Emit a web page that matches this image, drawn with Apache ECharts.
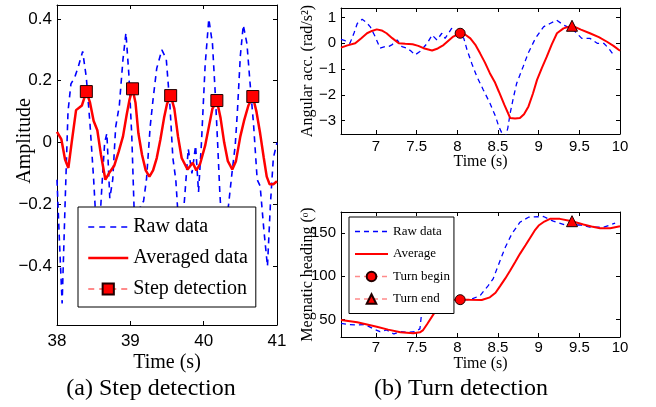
<!DOCTYPE html>
<html>
<head>
<meta charset="utf-8">
<script src="https://cdn.jsdelivr.net/npm/echarts@6/dist/echarts.min.js"></script>
<style>
  html, body { margin: 0; padding: 0; background: #fff; }
  #chart { width: 656px; height: 407px; }
</style>
</head>
<body>
<div id="chart"></div>
<script>
// ---- (a) Step detection: accelerometer amplitude ----
const stepRawT = [38.00, 38.03, 38.07, 38.11, 38.15, 38.19, 38.24, 38.29, 38.35, 38.40, 38.45, 38.50, 38.53, 38.57, 38.61, 38.65, 38.68, 38.72, 38.76, 38.80, 38.85, 38.90, 38.94, 38.98, 39.02, 39.06, 39.10, 39.14, 39.18, 39.22, 39.27, 39.31, 39.36, 39.43, 39.49, 39.54, 39.58, 39.62, 39.66, 39.70, 39.74, 39.79, 39.84, 39.89, 39.93, 39.97, 40.02, 40.07, 40.12, 40.16, 40.19, 40.22, 40.26, 40.30, 40.34, 40.39, 40.43, 40.46, 40.50, 40.54, 40.59, 40.63, 40.68, 40.73, 40.77, 40.82, 40.87, 40.91, 40.95, 40.98, 41.00];
const stepRawV = [-0.12, -0.30, -0.52, -0.20, 0.10, 0.19, 0.21, 0.245, 0.295, 0.21, 0.06, -0.12, -0.25, -0.32, -0.15, 0.0, 0.03, -0.18, -0.12, 0.05, 0.12, 0.27, 0.355, 0.22, 0.02, -0.28, -0.35, -0.20, -0.19, -0.12, 0.05, 0.14, 0.24, 0.30, 0.27, 0.12, -0.05, -0.12, -0.27, -0.30, -0.18, -0.02, -0.10, -0.01, -0.16, 0.0, 0.25, 0.40, 0.32, 0.15, 0.0, -0.16, -0.32, -0.28, -0.20, -0.09, -0.01, 0.10, 0.28, 0.38, 0.32, 0.20, 0.06, -0.12, -0.14, -0.28, -0.40, -0.20, -0.05, -0.02, 0.0];

const stepAvgT = [38.00, 38.06, 38.11, 38.155, 38.20, 38.26, 38.34, 38.40, 38.45, 38.50, 38.55, 38.60, 38.66, 38.72, 38.78, 38.84, 38.90, 38.95, 38.99, 39.03, 39.07, 39.11, 39.16, 39.21, 39.26, 39.31, 39.36, 39.41, 39.46, 39.50, 39.55, 39.60, 39.65, 39.70, 39.78, 39.85, 39.90, 39.95, 40.02, 40.07, 40.12, 40.18, 40.23, 40.28, 40.33, 40.39, 40.44, 40.50, 40.55, 40.61, 40.67, 40.72, 40.77, 40.82, 40.86, 40.90, 40.95, 41.00];
const stepAvgV = [0.035, 0.01, -0.055, -0.082, 0.0, 0.105, 0.12, 0.165, 0.13, 0.07, 0.04, -0.04, -0.12, -0.095, -0.075, -0.03, 0.02, 0.09, 0.14, 0.174, 0.13, 0.03, -0.04, -0.09, -0.11, -0.09, -0.05, 0.01, 0.08, 0.125, 0.152, 0.11, 0.02, -0.05, -0.087, -0.065, -0.09, -0.07, -0.01, 0.05, 0.11, 0.136, 0.08, 0.0, -0.06, -0.087, -0.06, 0.02, 0.07, 0.12, 0.149, 0.10, 0.03, -0.05, -0.11, -0.135, -0.135, -0.125];

const stepPeakT = [38.40, 39.03, 39.55, 40.18, 40.67];
const stepPeakV = [0.165, 0.174, 0.152, 0.136, 0.149];

const stepYTicks = [-0.4, -0.2, 0, 0.2, 0.4];

// ---- (b) Turn detection: angular acceleration ----
const accRawT = [6.57, 6.62, 6.68, 6.73, 6.77, 6.83, 6.88, 6.93, 6.99, 7.05, 7.11, 7.16, 7.20, 7.26, 7.32, 7.38, 7.43, 7.48, 7.54, 7.63, 7.69, 7.75, 7.81, 7.85, 7.93, 8.015, 8.08, 8.12, 8.18, 8.24, 8.32, 8.40, 8.47, 8.51, 8.55, 8.59, 8.62, 8.65, 8.69, 8.73, 8.81, 8.87, 8.96, 9.06, 9.14, 9.22, 9.305, 9.37, 9.43, 9.53, 9.63, 9.72, 9.80, 9.86, 9.92];
const accRawV = [0.15, 0.10, 0.0, 0.40, 0.77, 0.93, 0.82, 0.64, 0.26, -0.19, -0.13, -0.12, -0.05, 0.13, -0.13, -0.19, -0.30, -0.45, -0.32, 0.0, 0.32, 0.13, 0.39, 0.19, 0.58, 0.39, 0.19, -0.26, -0.80, -1.29, -1.81, -2.32, -2.84, -3.23, -3.50, -3.65, -3.30, -2.71, -2.10, -1.55, -0.90, -0.39, 0.19, 0.64, 0.77, 0.90, 0.71, 0.62, 0.51, 0.19, 0.19, 0.0, 0.0, -0.19, -0.45];

const accAvgT = [6.57, 6.65, 6.745, 6.82, 6.89, 6.95, 7.01, 7.07, 7.13, 7.20, 7.28, 7.36, 7.45, 7.52, 7.585, 7.69, 7.76, 7.83, 7.89, 7.95, 8.035, 8.10, 8.16, 8.22, 8.28, 8.34, 8.40, 8.46, 8.51, 8.58, 8.65, 8.71, 8.77, 8.82, 8.875, 8.93, 8.98, 9.04, 9.10, 9.16, 9.225, 9.305, 9.41, 9.52, 9.63, 9.74, 9.84, 9.92, 10.00];
const accAvgV = [-0.17, -0.08, 0.0, 0.20, 0.39, 0.48, 0.54, 0.50, 0.39, 0.20, 0.0, -0.02, -0.04, -0.10, -0.19, -0.28, -0.20, -0.07, 0.10, 0.26, 0.39, 0.33, 0.19, -0.05, -0.39, -0.75, -1.16, -1.50, -1.87, -2.40, -2.90, -2.92, -2.90, -2.75, -2.45, -1.95, -1.42, -0.95, -0.52, -0.05, 0.39, 0.58, 0.68, 0.53, 0.39, 0.24, 0.06, -0.10, -0.29];

const accYTicks = [-3, -2, -1, 0, 1];

// ---- (b) Turn detection: magnetic heading ----
const headRawT = [6.57, 6.66, 6.745, 6.87, 6.97, 7.05, 7.13, 7.22, 7.30, 7.38, 7.48, 7.54, 7.56, 7.60, 7.70, 7.80, 7.90, 7.95, 8.035, 8.16, 8.28, 8.38, 8.44, 8.51, 8.59, 8.67, 8.77, 8.875, 9.06, 9.18, 9.35, 9.51, 9.63, 9.80, 9.94];
const headRawV = [45.7, 44.5, 43.9, 44.2, 39.3, 36.1, 38.1, 33.5, 36.1, 35.4, 36.1, 39.3, 56.6, 62, 66, 70, 72, 73, 73, 73, 77.7, 89.2, 96.9, 114.2, 133.4, 148.8, 162.2, 168, 168.8, 163.4, 158.4, 159.2, 156.5, 156.5, 161.1];

const headAvgT = [6.57, 6.77, 7.01, 7.15, 7.30, 7.46, 7.54, 7.58, 7.63, 7.71, 7.77, 7.83, 7.90, 7.95, 8.035, 8.15, 8.30, 8.40, 8.47, 8.53, 8.59, 8.65, 8.71, 8.77, 8.84, 8.90, 8.95, 9.00, 9.07, 9.14, 9.26, 9.41, 9.55, 9.65, 9.755, 9.88, 10.00];
const headAvgV = [49.6, 46.9, 41.9, 38.5, 35.4, 34.2, 35.4, 38, 45, 56.6, 63, 68, 71.5, 73, 73, 72.8, 72.6, 75.7, 81, 89.2, 97.5, 106.5, 116, 125.8, 136, 145, 152.5, 158.4, 163, 166.1, 166.1, 163.4, 159.6, 157.3, 155.3, 155.3, 157.6];

const headYTicks = [50, 100, 150];

const turnXTicks = [7, 7.5, 8, 8.5, 9, 9.5, 10];

// Detected turn events (time, angular acc., heading)
const turnBeginT = 8.035, turnBeginAcc = 0.39, turnBeginHead = 73;
const turnEndT = 9.41, turnEndAcc = 0.68, turnEndHead = 163.4;

// ------------------------------------------------------------
const zip = (xs, ys) => xs.map((x, i) => [x, ys[i]]);
const minus = v => String(v).replace('-', '\u2212');

const SANS = 'Liberation Sans';
const SERIF = 'Liberation Serif';
const BLUE = '#0000ff';
const RED = '#ff0000';

function boxAxes(gridIndex, xr, yr, xTicks, yTicks, fs, names) {
  const tick = { show: true, inside: true, length: 4, lineStyle: { color: '#000', width: 1 } };
  const line = { show: true, onZero: false, lineStyle: { color: '#000', width: 1 } };
  const lbl = (ticks, margin) => ({
    show: true, fontFamily: SANS, fontSize: fs, color: '#000', margin,
    customValues: ticks, formatter: minus, showMinLabel: true, showMaxLabel: true
  });
  const nameStyle = { fontFamily: SERIF, fontSize: names.fs, color: '#000', fontWeight: 'normal' };
  const x = [
    { type: 'value', gridIndex, min: xr[0], max: xr[1], position: 'bottom',
      axisLine: line, axisTick: Object.assign({ customValues: xTicks }, tick),
      axisLabel: lbl(xTicks, names.xMargin), splitLine: { show: false },
      name: names.x, nameLocation: 'middle', nameGap: names.xGap, nameMoveOverlap: false,
      nameTextStyle: nameStyle },
    { type: 'value', gridIndex, min: xr[0], max: xr[1], position: 'top',
      axisLine: line, axisTick: Object.assign({ customValues: xTicks }, tick),
      axisLabel: { show: false }, splitLine: { show: false } }
  ];
  const y = [
    { type: 'value', gridIndex, min: yr[0], max: yr[1], position: 'left',
      axisLine: line, axisTick: Object.assign({ customValues: yTicks }, tick),
      axisLabel: lbl(yTicks, 5), splitLine: { show: false },
      name: names.y, nameLocation: 'middle', nameGap: names.yGap, nameRotate: 90,
      nameMoveOverlap: false,
      nameTextStyle: Object.assign({}, nameStyle, names.yPad ? { padding: names.yPad } : {}) },
    { type: 'value', gridIndex, min: yr[0], max: yr[1], position: 'right',
      axisLine: line, axisTick: Object.assign({ customValues: yTicks }, tick),
      axisLabel: { show: false }, splitLine: { show: false } }
  ];
  return { x, y };
}

const a = boxAxes(0, [38, 41], [-0.59, 0.445], [38, 39, 40, 41], stepYTicks, 17,
  { x: 'Time (s)', xGap: 28, xMargin: 8, y: 'Amplitude', yGap: 22, fs: 20, yPad: [0, 0, 0, 48] });
const b = boxAxes(1, [6.57, 10], [-3.52, 1.37], turnXTicks, accYTicks, 15,
  { x: 'Time (s)', xGap: 20, xMargin: 5, y: 'Angular acc. (rad/s\u00B2)', yGap: 25, fs: 16 });
const c = boxAxes(2, [6.57, 10], [30, 174], turnXTicks, headYTicks, 15,
  { x: 'Time (s)', xGap: 19, xMargin: 3, y: 'Megnatic heading (\u1D52)', yGap: 25, fs: 16 });

const xAxes = [].concat(a.x, b.x, c.x);
const yAxes = [].concat(a.y, b.y, c.y);

function lineSeries(name, xi, yi, data, color, width, type, z) {
  return {
    type: 'line', name, xAxisIndex: xi, yAxisIndex: yi, data,
    symbol: 'none', smooth: false, animation: false, z,
    lineStyle: { color, width, type },
    itemStyle: { color }
  };
}
function markerSeries(name, xi, yi, data, symbol, size) {
  return {
    type: 'line', name, xAxisIndex: xi, yAxisIndex: yi, data,
    symbol, symbolSize: size, showSymbol: true, animation: false, z: 5,
    lineStyle: { opacity: 0, width: 0 },
    itemStyle: { color: RED, borderColor: '#200000', borderWidth: 1 }
  };
}

const series = [
  // (a)
  lineSeries('Raw data', 0, 0, zip(stepRawT, stepRawV), BLUE, 1.6, [6, 5], 2),
  lineSeries('Averaged data', 0, 0, zip(stepAvgT, stepAvgV), RED, 2.5, 'solid', 3),
  markerSeries('Step detection', 0, 0, zip(stepPeakT, stepPeakV), 'rect', 12),
  // (b) angular acceleration
  lineSeries('Raw data', 2, 2, zip(accRawT, accRawV), BLUE, 1.3, [5, 4], 2),
  lineSeries('Average', 2, 2, zip(accAvgT, accAvgV), RED, 2, 'solid', 3),
  markerSeries('Turn begin', 2, 2, [[turnBeginT, turnBeginAcc]], 'circle', 10),
  markerSeries('Turn end', 2, 2, [[turnEndT, turnEndAcc]], 'triangle', 11),
  // (b) heading
  lineSeries('Raw data', 4, 4, zip(headRawT, headRawV), BLUE, 1.3, [5, 4], 2),
  lineSeries('Average', 4, 4, zip(headAvgT, headAvgV), RED, 2, 'solid', 3),
  markerSeries('Turn begin', 4, 4, [[turnBeginT, turnBeginHead]], 'circle', 10),
  markerSeries('Turn end', 4, 4, [[turnEndT, turnEndHead]], 'triangle', 11)
];

const fadedRed = { color: '#ff8a8a', type: [6, 5], width: 2, opacity: 1 };
const fadedRedSmall = { color: '#ff8a8a', type: [5, 4], width: 1.6, opacity: 1 };
const noMark = { opacity: 0 };

const option = {
  backgroundColor: '#fff',
  animation: false,
  grid: [
    { left: 57, top: 5, width: 220, height: 320 },
    { left: 341, top: 8, width: 279, height: 126 },
    { left: 341, top: 212, width: 279, height: 125 }
  ],
  xAxis: xAxes,
  yAxis: yAxes,
  legend: [
    {
      orient: 'vertical', left: 78, top: 207, padding: [10, 8, 8, 9],
      itemWidth: 40, itemHeight: 14, itemGap: 11,
      backgroundColor: '#fff', borderColor: '#000', borderWidth: 1, borderRadius: 0,
      selectedMode: false,
      textStyle: { fontFamily: SERIF, fontSize: 20, color: '#000' },
      data: [
        { name: 'Raw data', lineStyle: { color: BLUE, type: [6, 5], width: 1.6 }, itemStyle: noMark },
        { name: 'Averaged data', lineStyle: { color: RED, type: 'solid', width: 2.5 }, itemStyle: noMark },
        { name: 'Step detection', lineStyle: fadedRed }
      ]
    },
    {
      orient: 'vertical', left: 349, top: 217, padding: [8, 4, 8, 5],
      itemWidth: 33, itemHeight: 12, itemGap: 9.5,
      backgroundColor: '#fff', borderColor: '#000', borderWidth: 1, borderRadius: 0,
      selectedMode: false,
      textStyle: { fontFamily: SERIF, fontSize: 13, color: '#000' },
      data: [
        { name: 'Raw data', lineStyle: { color: BLUE, type: [5, 4], width: 1.3 }, itemStyle: noMark },
        { name: 'Average', lineStyle: { color: RED, type: 'solid', width: 2 }, itemStyle: noMark },
        { name: 'Turn begin', lineStyle: fadedRedSmall },
        { name: 'Turn end', lineStyle: fadedRedSmall }
      ]
    }
  ],
  graphic: [
    { type: 'text', x: 151, y: 389,
      style: { text: '(a) Step detection', font: '24px "Liberation Serif"', fill: '#000',
               textAlign: 'center', textVerticalAlign: 'middle' } },
    { type: 'text', x: 461, y: 389,
      style: { text: '(b) Turn detection', font: '24px "Liberation Serif"', fill: '#000',
               textAlign: 'center', textVerticalAlign: 'middle' } }
  ],
  series
};

const chart = echarts.init(document.getElementById('chart'), null, { renderer: 'canvas' });
chart.setOption(option);
</script>
</body>
</html>
